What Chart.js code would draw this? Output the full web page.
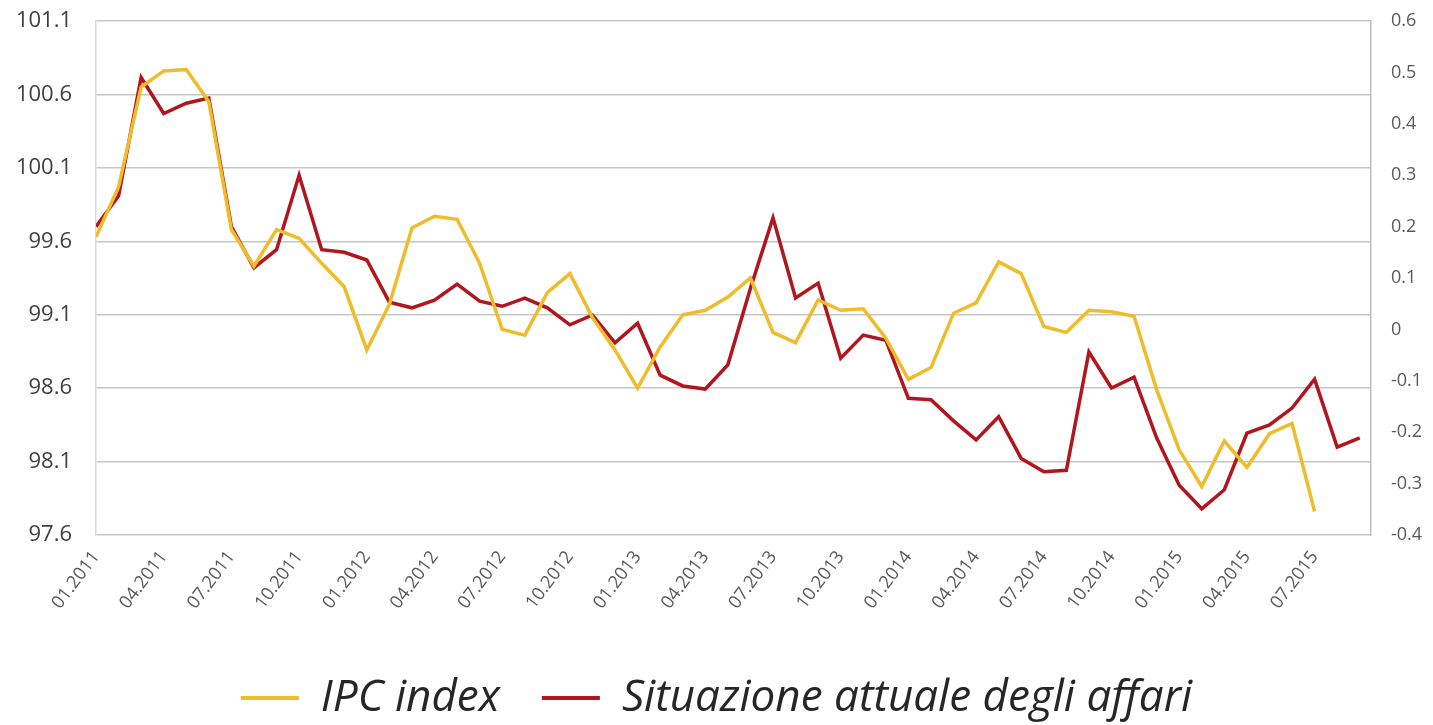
<!DOCTYPE html>
<html>
<head>
<meta charset="utf-8">
<script src="https://cdn.jsdelivr.net/npm/chart.js@4"></script>
<style>
  html, body { margin: 0; padding: 0; background: #fff; }
  #wrap { width: 1433px; height: 725px; }
</style>
</head>
<body>
<div id="wrap"><canvas id="myChart"></canvas></div>
<script>
// months on the x axis (01.2011 .. 09.2015)
var mesi = [
  "01.2011","02.2011","03.2011","04.2011","05.2011","06.2011","07.2011","08.2011","09.2011","10.2011","11.2011","12.2011",
  "01.2012","02.2012","03.2012","04.2012","05.2012","06.2012","07.2012","08.2012","09.2012","10.2012","11.2012","12.2012",
  "01.2013","02.2013","03.2013","04.2013","05.2013","06.2013","07.2013","08.2013","09.2013","10.2013","11.2013","12.2013",
  "01.2014","02.2014","03.2014","04.2014","05.2014","06.2014","07.2014","08.2014","09.2014","10.2014","11.2014","12.2014",
  "01.2015","02.2015","03.2015","04.2015","05.2015","06.2015","07.2015","08.2015","09.2015"
];

// IPC index (left axis)
var ipcIndex = [
  99.63, 99.97, 100.65, 100.76, 100.77, 100.55, 99.68, 99.43, 99.68, 99.62, 99.45, 99.29,
  98.86, 99.17, 99.69, 99.77, 99.75, 99.45, 99.00, 98.96, 99.25, 99.38, 99.08, 98.86,
  98.60, 98.88, 99.10, 99.13, 99.22, 99.35, 98.98, 98.91, 99.20, 99.13, 99.14, 98.94,
  98.66, 98.74, 99.11, 99.18, 99.46, 99.38, 99.02, 98.98, 99.13, 99.12, 99.09, 98.59,
  98.18, 97.93, 98.24, 98.06, 98.29, 98.36, 97.76
];

// Situazione attuale degli affari (right axis)
var situazione = [
  0.20, 0.26, 0.49, 0.42, 0.44, 0.45, 0.20, 0.12, 0.155, 0.30, 0.155, 0.15,
  0.135, 0.053, 0.042, 0.057, 0.088, 0.055, 0.045, 0.061, 0.042, 0.009, 0.028, -0.026,
  0.012, -0.089, -0.11, -0.116, -0.069, 0.08, 0.217, 0.061, 0.09, -0.056, -0.011, -0.021,
  -0.134, -0.137, -0.178, -0.215, -0.17, -0.251, -0.277, -0.274, -0.044, -0.114, -0.093, -0.211,
  -0.303, -0.349, -0.312, -0.202, -0.186, -0.153, -0.097, -0.229, -0.211
];

var giallo = "#EFBC2B";
var rosso = "#B0161C";

function punti(arr) {
  return arr.map(function (v, i) { return { x: i, y: v }; });
}

new Chart("myChart", {
  type: "line",
  data: {
    datasets: [{
      label: "IPC index",
      data: punti(ipcIndex),
      borderColor: giallo,
      backgroundColor: giallo,
      borderWidth: 3.5,
      pointRadius: 0,
      tension: 0,
      yAxisID: "y"
    }, {
      label: "Situazione attuale degli affari",
      data: punti(situazione),
      borderColor: rosso,
      backgroundColor: rosso,
      borderWidth: 3.5,
      pointRadius: 0,
      tension: 0,
      yAxisID: "y1"
    }]
  },
  options: {
    responsive: true,
    maintainAspectRatio: false,
    animation: false,
    layout: { padding: { top: 21, bottom: 0, left: 0, right: 0 } },
    plugins: {
      tooltip: { enabled: false },
      legend: {
        position: "bottom",
        maxHeight: 91,
        labels: {
          boxWidth: 58,
          boxHeight: 4,
          padding: 42,
          color: "#262626",
          font: { family: "'Open Sans', sans-serif", size: 44, style: "italic" },
          generateLabels: function (chart) {
            var items = Chart.defaults.plugins.legend.labels.generateLabels(chart);
            items.forEach(function (it) { it.lineWidth = 0; });
            return items;
          }
        }
      }
    },
    scales: {
      x: {
        type: "linear",
        min: 0,
        max: 56.5,
        grid: { display: false },
        border: { display: false },
        afterFit: function (s) { s.height = 99; },
        afterBuildTicks: function (s) {
          s.ticks = mesi.map(function (m, i) { return { value: i }; })
                        .filter(function (t) { return t.value % 3 === 0; });
        },
        ticks: {
          autoSkip: false,
          minRotation: 53,
          maxRotation: 53,
          padding: 4,
          color: "#595959",
          font: { family: "'Open Sans', sans-serif", size: 18 },
          callback: function (v) { return mesi[v]; }
        }
      },
      y: {
        position: "left",
        min: 97.6,
        max: 101.1,
        ticks: {
          stepSize: 0.5,
          padding: 0,
          color: "#404040",
          font: { family: "'Open Sans', sans-serif", size: 22 }
        },
        grid: { color: "#c6c6c6", lineWidth: 1.5, drawTicks: true, tickLength: 24, tickColor: "rgba(0,0,0,0)" },
        border: { display: true, color: "#d9d9d9", width: 1.5 },
        afterFit: function (s) { s.width = 96; }
      },
      y1: {
        position: "right",
        min: -0.4,
        max: 0.6,
        ticks: {
          stepSize: 0.1,
          padding: 0,
          color: "#595959",
          font: { family: "'Open Sans', sans-serif", size: 18 }
        },
        grid: { display: false, drawOnChartArea: false, drawTicks: true, tickLength: 20, tickColor: "rgba(0,0,0,0)" },
        border: { display: true, color: "#bdbdbd", width: 1.5 },
        afterFit: function (s) { s.width = 62; }
      }
    }
  }
});
</script>
</body>
</html>
